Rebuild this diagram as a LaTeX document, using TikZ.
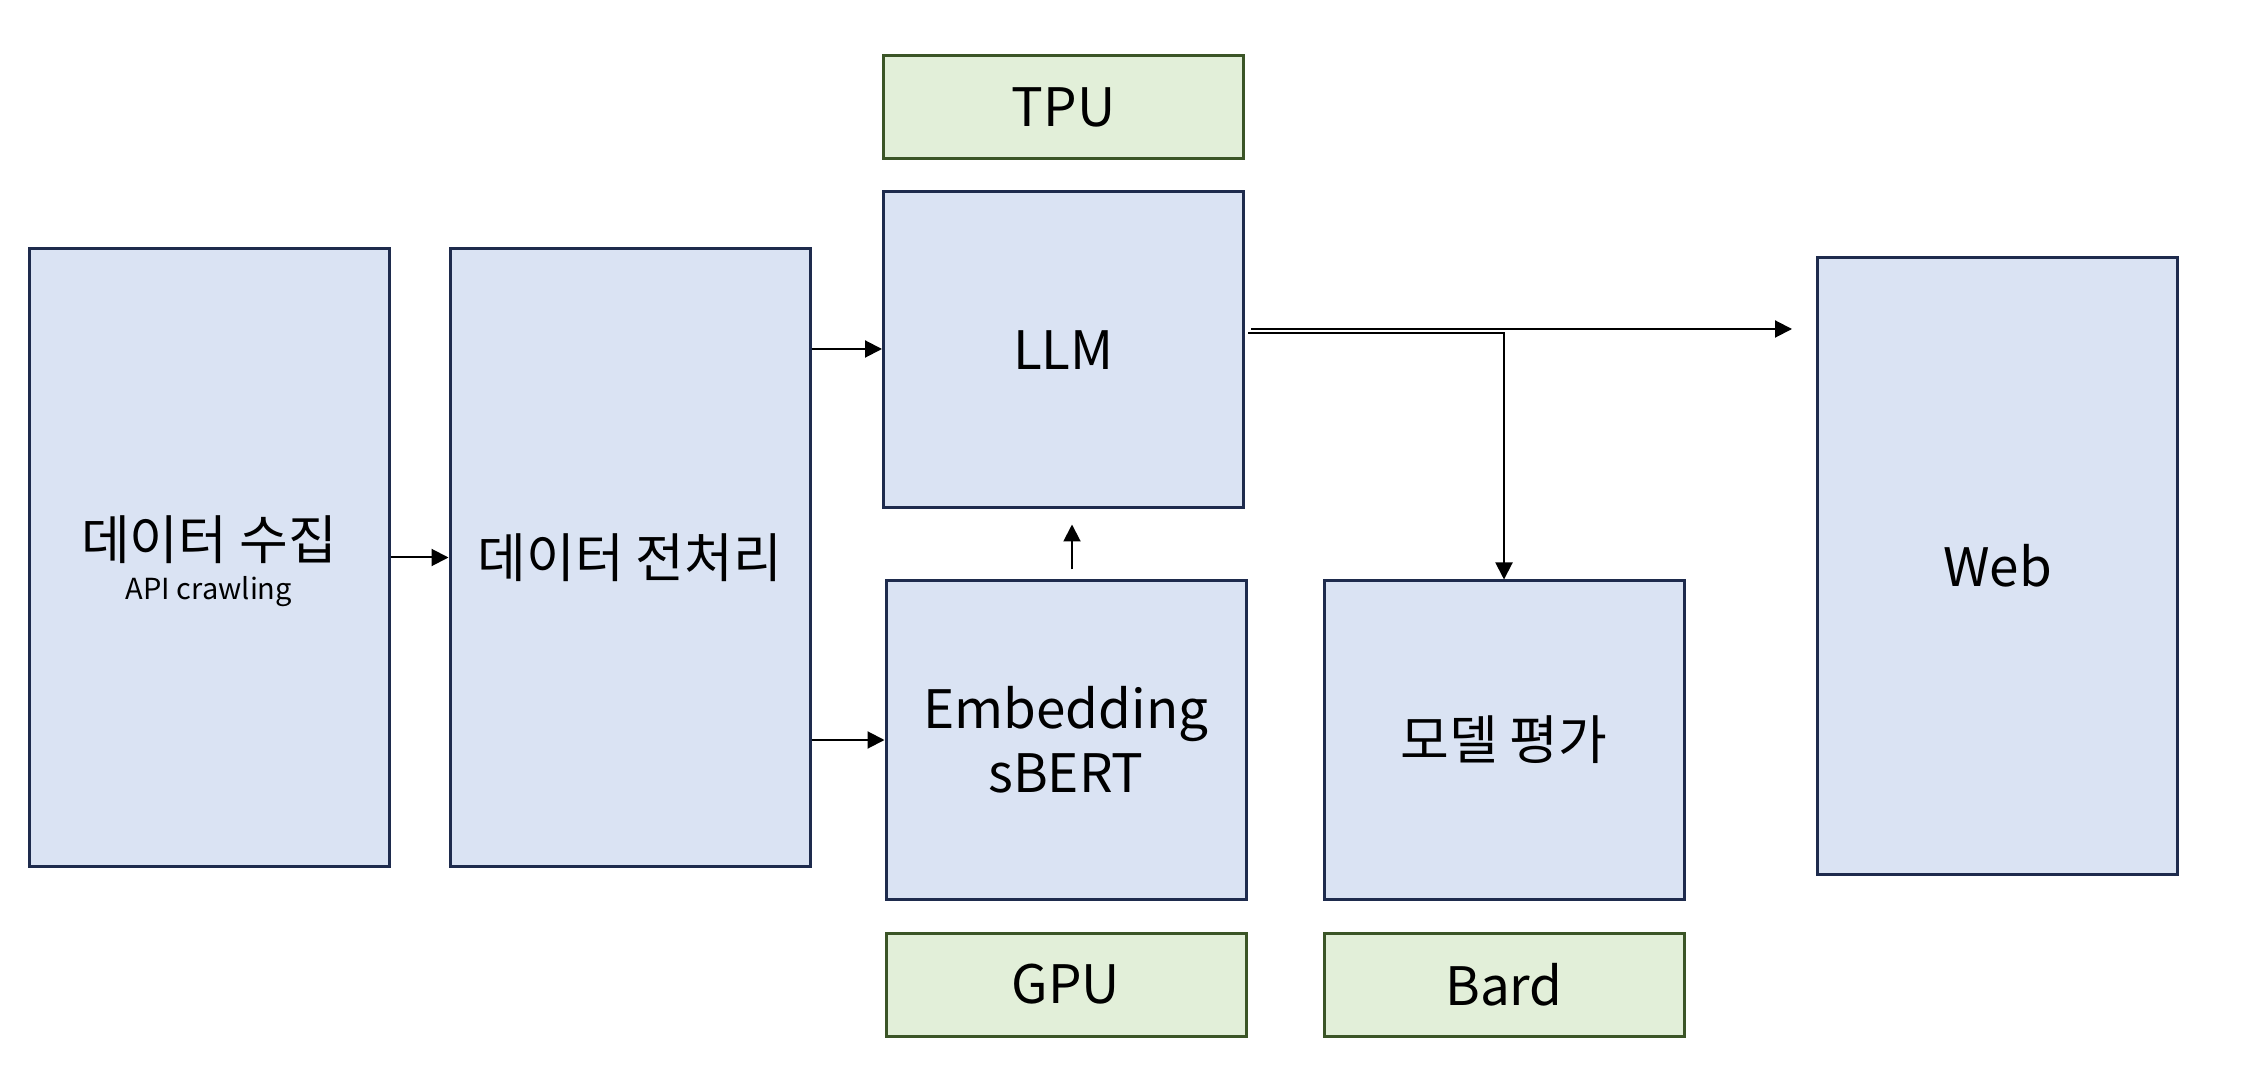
\documentclass[tikz,border=0pt]{standalone}
\usepackage{fontspec}
\setmainfont{Noto Sans CJK KR}
\usetikzlibrary{arrows.meta}
\definecolor{bfill}{HTML}{DAE3F3}
\definecolor{bdraw}{HTML}{1E2B4D}
\definecolor{gfill}{HTML}{E2EFD9}
\definecolor{gdraw}{HTML}{3B5527}
\tikzset{
  bluebox/.style={draw=bdraw, fill=bfill, line width=1.5pt, minimum width=180pt, inner sep=0pt, align=center, font=\fontsize{26.5}{32}\selectfont},
  greenbox/.style={draw=gdraw, fill=gfill, line width=1.5pt, minimum width=180pt, minimum height=51.5pt, inner sep=0pt, align=center, font=\fontsize{26.5}{32}\selectfont},
  arr/.style={line width=1pt, -{Triangle[length=8.5pt,width=8.5pt]}},
  ln/.style={line width=1pt}
}
\begin{document}
\begin{tikzpicture}[x=0.5pt,y=-0.5pt]
\useasboundingbox (0,0) rectangle (2244,1090);
\node[bluebox, minimum height=308.5pt] (collect) at (209,557.5) {};
\node[align=center, font=\fontsize{26.5}{32}\selectfont, inner sep=0pt] (collecttxt) at (209,561) {데이터 수집\\[-12pt]{\fontsize{14.5}{17}\selectfont API crawling}};
\node[bluebox, minimum height=308.5pt] (prep) at (630,557.5) {데이터 전처리};
\node[greenbox] (tpu) at (1063.5,107.5) {TPU};
\node[bluebox, minimum height=158pt] (llm) at (1063.5,350) {LLM};
\node[bluebox, minimum height=159pt] (emb) at (1066,740) {Embedding\\sBERT};
\node[bluebox, minimum height=159pt] (eval) at (1504,740) {모델 평가};
\node[greenbox] (gpu) at (1066,984.5) {GPU};
\node[greenbox] (bard) at (1504,984.5) {Bard};
\node[bluebox, minimum height=308pt] (web) at (1997.5,566) {Web};

\draw[arr] (collect.east) -- (prep.west);
\draw[arr] (prep.east |- 0,349) -- (llm.west |- 0,349);
\draw[arr] (prep.east |- emb.west) -- (emb.west);
\coordinate (e1) at ([shift={(6,-10)}]emb.north);
\coordinate (e2) at ([shift={(8.5,15)}]llm.south);
\draw[arr] (e1) -- (e1 |- e2);
\coordinate (w1) at ([shift={(6,-21)}]llm.east);
\coordinate (w2) at ([shift={(-24,0)}]web.west |- w1);
\draw[arr] (w1) -- (w2);
\coordinate (m1) at ([shift={(3,-17)}]llm.east);
\draw[arr] (m1) -- (m1 -| eval.north) -- (eval.north);
\end{tikzpicture}
\end{document}
